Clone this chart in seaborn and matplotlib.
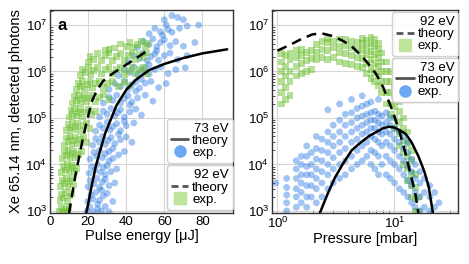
import numpy as np
import pandas as pd
import matplotlib
matplotlib.use("Agg")
import matplotlib.pyplot as plt
from matplotlib.lines import Line2D
import seaborn as sns

# -------------------- Data --------------------
# panel a: theory curves vs pulse energy [uJ]
energy_73 = [19, 20, 22, 24, 26, 29, 32, 35, 40, 45, 52, 60, 70, 80, 93]
theory_73 = [8.9e2, 1.4e3, 3.7e3, 8.9e3, 1.8e4, 4.7e4, 9.5e4, 1.9e5, 4e5, 6.6e5,
             1.07e6, 1.45e6, 1.95e6, 2.45e6, 3.0e6]
energy_92 = [10, 11, 12, 13.5, 15, 17, 19, 22, 25, 28, 32, 36, 40, 45, 51]
theory_92 = [8.9e2, 1.6e3, 2.75e3, 6.3e3, 1.26e4, 3.2e4, 7.4e4, 2.3e5, 4.2e5, 6.3e5,
             8.5e5, 1.1e6, 1.4e6, 1.9e6, 2.8e6]

# panel a: measured shots (pulse energy, photons)
exp_73_energy = [
    (19.5, 1.0e3), (21, 1.2e3), (23, 9.5e2), (25, 1.1e3), (27, 1.0e3), (29, 1.25e3), (31, 9.6e2),
    (19.8, 1.6e3), (21.5, 2.2e3), (22.5, 1.8e3), (24, 2.5e3), (26, 1.7e3), (28, 2.1e3), (30, 2.4e3), (33, 1.6e3),
    (20, 3.3e3), (21, 4.5e3), (23, 3.8e3), (24.5, 5e3), (26, 3.2e3), (27.5, 4.2e3), (29, 4.8e3), (31, 3.5e3), (34, 4e3),
    (20.5, 6.5e3), (22, 9e3), (23.5, 7.5e3), (25, 1e4), (26.5, 6.8e3), (28, 8.5e3), (30, 9.5e3), (32, 7e3), (35, 8e3),
    (21, 1.3e4), (23, 1.8e4), (24.5, 1.5e4), (26, 2e4), (27.5, 1.4e4), (29, 1.7e4), (31, 1.9e4), (33, 1.35e4),
    (36, 1.6e4), (39, 1.9e4),
    (22.5, 2.6e4), (24, 3.6e4), (26, 3e4), (27.5, 4e4), (29, 2.7e4), (30.5, 3.3e4), (32, 3.8e4), (34, 2.8e4),
    (37, 3.4e4), (40, 3.9e4), (43, 3e4),
    (24, 5.2e4), (26, 7e4), (28, 6e4), (30, 8e4), (31.5, 5.5e4), (33, 6.5e4), (35, 7.5e4), (37, 5.3e4),
    (40, 6.8e4), (44, 7.8e4),
    (26, 1.05e5), (28, 1.4e5), (30, 1.2e5), (32, 1.6e5), (34, 1.1e5), (35.5, 1.3e5), (37, 1.5e5), (39, 1.05e5),
    (42, 1.35e5), (45, 1.55e5), (48, 1.15e5),
    (28, 2.1e5), (31, 2.8e5), (33, 2.4e5), (35, 3.1e5), (37, 2.1e5), (39, 2.6e5), (41, 3e5), (43, 2.2e5),
    (46, 2.7e5), (50, 3.1e5), (54, 2.3e5),
    (31, 4.1e5), (34, 5.5e5), (37, 4.7e5), (39, 6.2e5), (41, 4.2e5), (43, 5.2e5), (45, 6e5), (47, 4.4e5),
    (50, 5.6e5), (53, 6.1e5), (57, 4.5e5), (61, 5.5e5),
    (36, 8.2e5), (39, 1.1e6), (42, 9.5e5), (44, 1.25e6), (46, 8.5e5), (48, 1.05e6), (50, 1.2e6), (52, 8.8e5),
    (55, 1.1e6), (58, 1.25e6), (62, 9e5), (66, 1.1e6), (71, 1.2e6),
    (41, 1.6e6), (44, 2.2e6), (47, 1.9e6), (49, 2.5e6), (51, 1.7e6), (53, 2.1e6), (55, 2.4e6), (57, 1.75e6),
    (60, 2.2e6), (63, 2.5e6), (67, 1.8e6), (72, 2.2e6),
    (46, 3.3e6), (49, 4.5e6), (52, 3.8e6), (54, 5e6), (56, 3.4e6), (58, 4.2e6), (60, 4.8e6), (63, 3.6e6),
    (66, 4.4e6), (70, 3.5e6), (76, 4.2e6),
    (52, 6.5e6), (55, 8.5e6), (58, 7.2e6), (61, 1e7), (64, 7e6), (68, 8.5e6), (72, 9.5e6), (78, 1e7),
    (60, 1.3e7), (64, 1.6e7), (67, 1.45e7), (70, 1.3e7),
    (25, 1.4e3), (27, 2.8e3), (29, 6e3), (31, 1.2e4), (33, 2.2e4), (36, 4.5e4), (39, 8.5e4), (42, 1.9e5),
    (45, 3.8e5), (48, 6.8e5), (52, 1.4e6), (56, 2.8e6), (59, 6e6), (62, 8e6),
]
exp_92_energy = [
    (5, 1e3), (6, 1.2e3), (7, 9.5e2), (8, 1.1e3), (9, 1.0e3), (10, 1.2e3),
    (5.2, 1.7e3), (6.2, 2.3e3), (7.2, 1.9e3), (8.2, 2.5e3), (9.2, 1.6e3), (10.5, 2.1e3), (11.5, 2.4e3),
    (5.5, 3.4e3), (6.5, 4.6e3), (7.5, 3.9e3), (8.5, 5e3), (9.5, 3.3e3), (10.5, 4.3e3), (11.5, 4.9e3), (12.5, 3.6e3),
    (6, 6.6e3), (7, 9.2e3), (8, 7.6e3), (9, 1e4), (10, 6.9e3), (11, 8.6e3), (12, 9.6e3), (13, 7.1e3), (14, 8.2e3),
    (6.5, 1.35e4), (7.5, 1.85e4), (8.5, 1.55e4), (9.5, 2e4), (10.5, 1.4e4), (11.5, 1.7e4), (12.5, 1.95e4),
    (13.5, 1.4e4), (15, 1.65e4), (16.5, 1.9e4),
    (7.5, 2.6e4), (8.5, 3.7e4), (9.5, 3.1e4), (10.5, 4e4), (11.5, 2.7e4), (12.5, 3.3e4), (13.5, 3.9e4),
    (14.5, 2.8e4), (16, 3.5e4), (17.5, 3.9e4), (19, 3e4),
    (8.5, 5.3e4), (9.5, 7.2e4), (10.5, 6.1e4), (11.5, 8e4), (12.5, 5.5e4), (13.5, 6.6e4), (14.5, 7.6e4),
    (16, 5.4e4), (17.5, 6.9e4), (19, 7.8e4), (21, 6e4),
    (10, 1.05e5), (11, 1.45e5), (12, 1.2e5), (13, 1.6e5), (14, 1.1e5), (15, 1.3e5), (16, 1.5e5), (17, 1.05e5),
    (18.5, 1.35e5), (20, 1.55e5), (22, 1.2e5), (24, 1.4e5),
    (12, 2.1e5), (13, 2.9e5), (14, 2.4e5), (15, 3.1e5), (16, 2.1e5), (17, 2.6e5), (18, 3e5), (19, 2.2e5),
    (20.5, 2.7e5), (22, 3.1e5), (24, 2.3e5), (26, 2.8e5), (28, 3.2e5), (31, 2.5e5),
    (14, 4.1e5), (15, 5.6e5), (16, 4.7e5), (17, 6.2e5), (18, 4.2e5), (19.5, 5.2e5), (21, 6e5), (22.5, 4.4e5),
    (24, 5.6e5), (26, 6.1e5), (28, 4.5e5), (30, 5.5e5), (33, 6.2e5), (36, 4.8e5), (39, 5.8e5), (42, 5e5),
    (16, 8.2e5), (17, 1.1e6), (18.5, 9.5e5), (20, 1.25e6), (21.5, 8.5e5), (23, 1.05e6), (25, 1.2e6),
    (27, 8.8e5), (29, 1.1e6), (31, 1.25e6), (33, 9e5), (35, 1.1e6), (37, 1.2e6), (39, 8.5e5), (41, 1.05e6),
    (43, 1.25e6), (45, 9.2e5), (47, 1.1e6), (49, 1.2e6), (50.5, 9e5),
    (20, 1.6e6), (21, 2.1e6), (23, 1.8e6), (25, 2.4e6), (27, 1.7e6), (29, 2.2e6), (31, 2.5e6), (33, 1.75e6),
    (35, 2.1e6), (37, 2.4e6), (39, 1.7e6), (41, 2.2e6), (43, 2.5e6), (45, 1.8e6), (47, 2.3e6), (49, 2e6),
    (50.5, 2.5e6),
    (29, 2.9e6), (31, 3e6), (34, 3.2e6), (37, 3.9e6), (40, 3.4e6), (42, 4.2e6), (44, 3.3e6), (46, 3.8e6),
    (48, 4.4e6), (50, 3.5e6), (51, 4e6),
]

# panel b: theory curves vs pressure [mbar]
pressure_92 = [1.0, 1.3, 1.6, 2.0, 2.4, 3.0, 3.6, 4.3, 5.2, 6.0, 7.0, 8.0, 9.5, 11, 12.4, 14, 15, 16]
theory_92_p = [2.8e6, 3.8e6, 5e6, 6.3e6, 6.6e6, 5.75e6, 4.6e6, 3.5e6, 2.2e6, 1.45e6, 8.7e5,
               4.6e5, 1.55e5, 5.2e4, 1.75e4, 5e3, 2.5e3, 8.9e2]
pressure_73 = [2.3, 2.7, 3.1, 3.6, 4.3, 5.0, 6.0, 7.0, 8.0, 9.0, 10, 11, 12.4, 14, 16, 18, 19.6, 21.3]
theory_73_p = [8.9e2, 2.4e3, 5.2e3, 1e4, 2e4, 2.8e4, 4e4, 5e4, 6e4, 6.5e4, 6.2e4, 5.5e4,
               4.6e4, 3e4, 1.5e4, 7e3, 3.3e3, 8.9e2]

# panel b: measured shots, grouped by pressure setting
exp_92_pressure = {
    1.08: [2e5, 3.5e5, 6e5, 1e6, 1.6e6, 2.4e6],
    1.18: [2.5e5, 4.5e5, 8e5, 1.3e6, 2.2e6],
    1.28: [3e5, 6e5, 1e6, 1.8e6, 2.5e6],
    1.45: [8e5, 1.3e6, 2e6, 2.8e6],
    1.6: [9e5, 1.5e6, 2.2e6, 3e6],
    1.78: [1e6, 1.7e6, 2.6e6],
    1.95: [1.1e6, 1.9e6, 2.8e6],
    2.15: [1.8e6, 2.6e6, 3.8e6],
    2.4: [2e6, 3e6, 4.5e6],
    2.7: [1.8e6, 2.8e6, 4.2e6, 5e6],
    3.0: [2e6, 3.2e6, 4.5e6],
    3.4: [1.6e6, 2.5e6, 3.5e6, 5e6],
    3.8: [1.5e6, 2.4e6, 3.6e6, 4.8e6],
    4.3: [1.4e6, 2.2e6, 3.2e6, 4.5e6],
    4.8: [1.3e6, 2e6, 3e6, 4.2e6],
    5.3: [1.2e6, 1.9e6, 2.8e6, 4e6, 5.2e6],
    5.8: [9e5, 1.5e6, 2.3e6, 3.3e6, 4.6e6],
    6.3: [7e5, 1.1e6, 1.8e6, 2.7e6, 4e6, 5.5e6],
    6.8: [6e5, 9.5e5, 1.5e6, 2.3e6, 3.5e6, 4.8e6],
    7.3: [5e5, 8e5, 1.3e6, 2e6, 3e6, 4e6],
    7.8: [3.5e5, 6e5, 1e6, 1.6e6, 2.5e6],
    8.5: [2e5, 3.5e5, 6e5, 1e6, 1.6e6],
    9.2: [1.2e5, 2e5, 3.5e5, 6e5, 1e6],
    10: [6e4, 1e5, 1.8e5, 3e5, 5e5],
    11: [2.5e4, 4.5e4, 8e4, 1.4e5, 2.3e5],
    12: [1e4, 1.8e4, 3.2e4, 6e4, 1e5],
    13: [4.5e3, 8e3, 1.5e4, 2.8e4, 5e4],
    14: [2e3, 3.5e3, 6.5e3, 1.2e4, 2e4],
    15: [1e3, 1.8e3, 3.2e3, 6e3],
    16: [1e3, 2e3],
}
exp_73_pressure = {
    0.97: [4e3],
    1.2: [1e3, 1.5e3, 2.2e3, 3.2e3, 5e3],
    1.45: [1.2e3, 2e3, 3e3, 5e3, 8e3, 1.2e4],
    1.6: [1.5e3, 2.5e3, 4e3, 6e3, 1e4, 1.5e4],
    1.78: [1.2e3, 2e3, 3.5e3, 6e3, 9e3, 1.5e4, 2.5e4],
    1.95: [2e3, 3.5e3, 6e3, 1e4, 1.8e4],
    2.15: [1.5e3, 3e3, 5e3, 8e3, 1.3e4, 2.2e4, 4e4],
    2.4: [2e3, 4e3, 7e3, 1.2e4, 2e4, 3.5e4],
    2.7: [3e3, 6e3, 1e4, 1.8e4, 3e4, 5e4, 1.5e5],
    3.0: [4e3, 8e3, 1.4e4, 2.5e4, 4e4, 7e4],
    3.4: [5e3, 1e4, 1.8e4, 3e4, 5e4, 9e4, 2e5],
    3.8: [6e3, 1.2e4, 2.2e4, 4e4, 7e4, 1.2e5],
    4.3: [8e3, 1.5e4, 3e4, 5e4, 8e4, 1.3e5, 2.5e5],
    4.8: [1e4, 2e4, 3.5e4, 6e4, 1e5, 1.6e5],
    5.3: [1.2e4, 2.5e4, 4.5e4, 7e4, 1.1e5, 1.8e5, 3e5],
    5.8: [1.5e4, 3e4, 5e4, 8e4, 1.2e5, 2e5],
    6.3: [1e4, 2e4, 4e4, 6e4, 9e4, 1.3e5, 2.2e5],
    6.8: [8e3, 1.8e4, 3.5e4, 6e4, 9e4, 1.4e5],
    7.3: [6e3, 1.5e4, 3e4, 5e4, 8e4, 1.2e5, 2.5e5],
    7.8: [1e4, 2.5e4, 4.5e4, 7e4, 1.1e5],
    8.5: [6e3, 1.5e4, 3e4, 5e4, 8e4, 1.3e5],
    9.2: [5e3, 1.2e4, 2.5e4, 4.5e4, 7e4, 1e5],
    10: [4e3, 1e4, 2e4, 3.5e4, 6e4],
    11: [3e3, 8e3, 1.5e4, 3e4, 5e4],
    12: [2.5e3, 6e3, 1.2e4, 2.2e4, 4e4],
    13: [2e3, 4.5e3, 9e3, 1.8e4, 3e4],
    14: [1.5e3, 3.5e3, 7e3, 1.3e4],
    15: [1.2e3, 2.5e3, 5e3, 1e4],
    16.5: [1e3, 2e3, 4e3, 7e3],
    18: [1.2e3, 2.5e3, 5e3],
    20: [1e3, 2e3, 3.5e3],
    22: [1.2e3, 2.5e3],
    24: [1.5e3],
}

BLUE = "#1f74e0"
GREEN = "#6cbf30"
BLUE_LEG = "#6aa8f2"
GREEN_LEG = "#bfe59c"


def pairs_df(pairs):
    return pd.DataFrame(pairs, columns=["x", "y"])


def columns_df(cols):
    rows = [(p, v) for p, vals in cols.items() for v in vals]
    return pd.DataFrame(rows, columns=["x", "y"])


# -------------------- Style --------------------
sns.set_style("whitegrid", {"axes.edgecolor": "#333333", "grid.color": "#d6d6d6"})
plt.rcParams["font.family"] = ["Liberation Sans", "DejaVu Sans"]
plt.rcParams["mathtext.fontset"] = "custom"
plt.rcParams["mathtext.rm"] = "Liberation Sans"
for key in ("text.color", "axes.labelcolor", "xtick.color", "ytick.color"):
    plt.rcParams[key] = "black"

fig = plt.figure(figsize=(4.69, 2.64), dpi=100)
ax1 = fig.add_axes([0.1066, 0.193, 0.390, 0.769])
ax2 = fig.add_axes([0.580, 0.193, 0.397, 0.769])


def legend_box(ax, title, ls, marker, mcolor, anchor):
    handles = [
        Line2D([], [], color="#555555", ls=ls, lw=2),
        Line2D([], [], ls="none", marker=marker, ms=8, color=mcolor),
    ]
    leg = ax.legend(handles, ["theory", "exp."], title=title, loc="upper right",
                    bbox_to_anchor=anchor, fontsize=9.5, title_fontsize=9.5,
                    handlelength=1.3, handletextpad=0.3, labelspacing=0.0,
                    borderpad=0.3, borderaxespad=0.0, frameon=True, fancybox=True,
                    framealpha=0.85, edgecolor="#cccccc")
    leg._legend_box.align = "right"
    ax.add_artist(leg)


# -------------------- Panel a: pulse energy --------------------
sns.scatterplot(data=pairs_df(exp_73_energy), x="x", y="y", ax=ax1, marker="o", s=24,
                color=BLUE, alpha=0.42, edgecolor="none", legend=False)
sns.scatterplot(data=pairs_df(exp_92_energy), x="x", y="y", ax=ax1, marker="s", s=24,
                color=GREEN, alpha=0.5, edgecolor="none", legend=False)
ax1.plot(energy_73, theory_73, color="black", lw=1.8)
ax1.plot(energy_92, theory_92, color="black", lw=1.8, ls=(0, (4, 2.5)))
ax1.set_yscale("log")
ax1.set_xlim(0, 96)
ax1.set_ylim(9e2, 2.1e7)
ax1.set_xticks([0, 20, 40, 60, 80])
ax1.set_xlabel("Pulse energy [μJ]", fontsize=10.5, labelpad=1)
ax1.set_ylabel("Xe 65.14 nm, detected photons", fontsize=10.5, labelpad=2)
ax1.text(0.04, 0.96, "a", transform=ax1.transAxes, fontsize=12, fontweight="bold",
         va="top", ha="left")
legend_box(ax1, "73 eV", "-", "o", BLUE_LEG, (1.0, 0.465))
legend_box(ax1, "92 eV", (0, (2.5, 1.5)), "s", GREEN_LEG, (1.0, 0.235))

# -------------------- Panel b: pressure --------------------
sns.scatterplot(data=columns_df(exp_92_pressure), x="x", y="y", ax=ax2, marker="s", s=24,
                color=GREEN, alpha=0.5, edgecolor="none", legend=False)
sns.scatterplot(data=columns_df(exp_73_pressure), x="x", y="y", ax=ax2, marker="o", s=24,
                color=BLUE, alpha=0.42, edgecolor="none", legend=False)
ax2.plot(pressure_92, theory_92_p, color="black", lw=1.8, ls=(0, (4, 2.5)))
ax2.plot(pressure_73, theory_73_p, color="black", lw=1.8)
ax2.set_xscale("log")
ax2.set_yscale("log")
ax2.set_xlim(0.9, 35)
ax2.set_ylim(9e2, 2.1e7)
ax2.set_xlabel("Pressure [mbar]", fontsize=10.5, labelpad=1)
ax2.set_ylabel("")
legend_box(ax2, "92 eV", (0, (2.5, 1.5)), "s", GREEN_LEG, (1.0, 0.99))
legend_box(ax2, "73 eV", "-", "o", BLUE_LEG, (1.0, 0.765))

for ax in (ax1, ax2):
    ax.grid(True, which="major", lw=0.8)
    ax.grid(False, which="minor")
    ax.tick_params(axis="both", which="major", labelsize=9.5, length=0, pad=2)
    ax.tick_params(axis="y", which="minor", direction="in", length=2.5, left=True,
                   color="#333333", width=0.6)
    for sp in ax.spines.values():
        sp.set_linewidth(1.0)
ax2.tick_params(axis="x", which="minor", direction="in", length=2.5, bottom=True,
                color="#333333", width=0.6)

fig.savefig("out.png", dpi=100)
plt.close(fig)
